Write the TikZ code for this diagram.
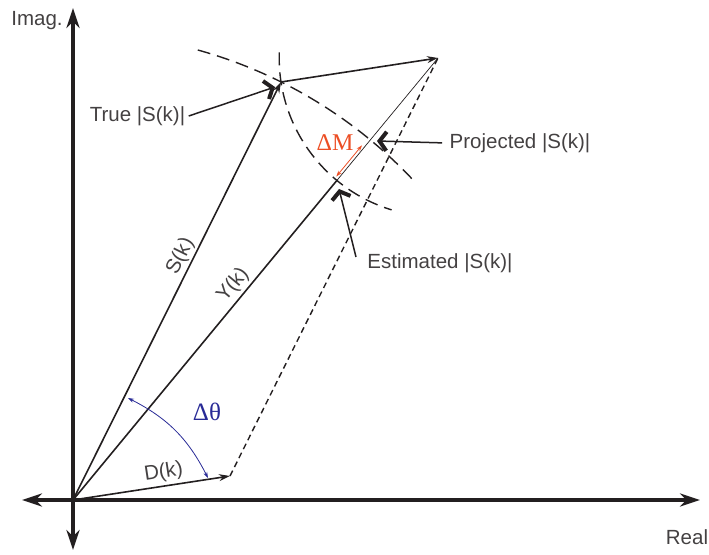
\documentclass[tikz,border=0pt]{standalone}
\usepackage{fontspec}
\setmainfont{Liberation Sans}
\newfontfamily\grkfont{Liberation Serif}
\usepackage{xcolor}
\usepackage{tikz}
\usetikzlibrary{arrows.meta,calc}
\definecolor{ink}{RGB}{35,31,32}
\definecolor{dmred}{RGB}{236,78,36}
\definecolor{dtblue}{RGB}{40,42,150}

\begin{document}
\begin{tikzpicture}[x=1pt,y=1pt,font=\fontsize{20.5}{24}\selectfont,
 axis/.style={{Stealth[length=20pt,width=13pt]}-{Stealth[length=20pt,width=13pt]},line width=3.5pt,ink},
 vec/.style={-{Stealth[length=11pt,width=7pt]},line width=1.6pt,ink},
 circ/.style={ink,line width=1.4pt,dash pattern=on 13pt off 7pt},
 ptr/.style={-{Straight Barb[length=7pt,width=19pt,line width=4pt]},line width=1.5pt,ink},
 lbl/.style={text=ink!85},
 small/.style={{Stealth[length=6pt,width=4pt]}-{Stealth[length=6pt,width=4pt]},line width=0.8pt}]
\useasboundingbox (-73,-54) rectangle (636,500);
% points of the parallelogram
\coordinate (O) at (0,0);
\coordinate (S) at (208,418);
\coordinate (D) at (157,24);
\coordinate (Y) at ($(S)+(D)$);
\coordinate (P) at ($(O)!467pt!(Y)$);
\coordinate (E) at ($(Y)!158.8pt!(O)$);
% axes
\coordinate (xl) at (-51,0);
\coordinate (xr) at (627,0);
\coordinate (yb) at (0,-50);
\coordinate (yt) at (0,492);
\draw[axis] (xl) -- (xr);
\draw[axis] (yb) -- (yt);
\node[lbl] (imag) at (-36,479) {Imag.};
\node[lbl] (real) at (614,-37) {Real};
% magnitude circles
\draw[circ] (O) ++(74.5:467) arc[start angle=74.5,end angle=43.5,radius=467];
\draw[circ] (Y) ++(178:158.8) arc[start angle=178,end angle=253,radius=158.8];
% vectors
\draw[ink,line width=1.4pt,dash pattern=on 6pt off 4pt] (D) -- (Y);
\draw[ink,line width=0.7pt] (E) -- (Y);
\draw[vec] (O) -- node[lbl,sloped,above,pos=0.57,inner sep=2pt] (slbl) {S(k)} (S);
\draw[ink,line width=1.6pt] (O) -- node[lbl,sloped,above,pos=0.646,inner sep=3pt] (ylbl) {Y(k)} (E);
\draw[vec] (O) -- node[lbl,sloped,above,pos=0.59,inner sep=3pt] (dlbl) {D(k)} (D);
\draw[vec] (S) -- (Y);
% delta M
\coordinate (m1) at ($($(E)!0.05!(P)$)+(-2.3,1.9)$);
\coordinate (m2) at ($($(E)!0.82!(P)$)+(-2.3,1.9)$);
\draw[small,dmred] (m1) -- (m2);
\node[text=dmred,font=\grkfont\fontsize{24}{27}\selectfont] (dm) at (262,357) {ΔM};
% delta theta
\coordinate (t1) at (55,102);
\coordinate (t2) at (135,22);
\draw[small,dtblue] (t1) to[bend left=18] (t2);
\node[text=dtblue,font=\grkfont\fontsize{25}{28}\selectfont] (dt) at (134,88) {Δθ};
% pointers
\node[lbl] (true) at (64.5,384) {True |S(k)|};
\coordinate (ts) at (202,413);
\draw[ptr] (true.east) -- (ts);
\node[lbl] (proj) at (447,357) {Projected |S(k)|};
\coordinate (pp) at (304,359);
\draw[ptr,shorten <=4pt] (proj.west) -- (pp);
\node[lbl] (est) at (367,237) {Estimated |S(k)|};
\coordinate (es0) at (283,243);
\coordinate (es) at (266,311);
\draw[ptr] (es0) -- (es);
\end{tikzpicture}
\end{document}
